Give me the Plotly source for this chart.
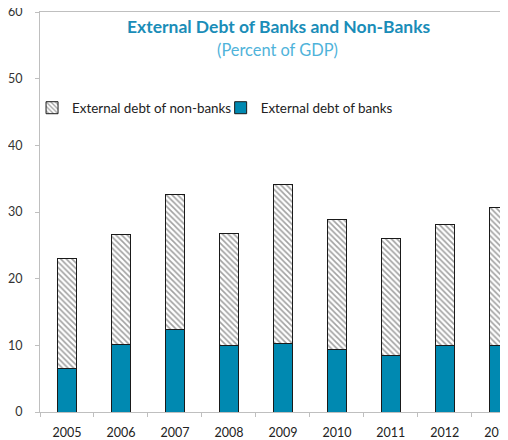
import plotly.graph_objects as go

years = ["2005", "2006", "2007", "2008", "2009", "2010", "2011", "2012", "2013"]
banks = [6.5, 10.2, 12.45, 10.0, 10.35, 9.35, 8.55, 10.0, 9.95]
non_banks = [16.5, 16.4, 20.15, 16.8, 23.8, 19.6, 17.45, 18.2, 20.75]
y_ticks = [0, 10, 20, 30, 40, 50, 60]

FONT = "Lato"
BLUE = "#0089B1"

fig = go.Figure()
fig.add_trace(go.Bar(
    x=years, y=banks, name="External debt of banks",
    marker=dict(color=BLUE, line=dict(color="#1a1a1a", width=1)),
    width=0.36, legend="legend2",
))
fig.add_trace(go.Bar(
    x=years, y=non_banks, name="External debt of non-banks",
    marker=dict(color="white", line=dict(color="#1a1a1a", width=1),
                pattern=dict(shape="\\", fgcolor="#444444", bgcolor="white",
                             size=4, solidity=0.4)),
    width=0.36, legend="legend",
))

legend_common = dict(orientation="h", yanchor="middle", y=0.76, xanchor="left",
                     font=dict(family=FONT, size=13.4, color="#222222"),
                     bgcolor="rgba(0,0,0,0)", itemwidth=30)

fig.update_layout(
    width=500, height=432,
    margin=dict(l=28, r=0, t=4, b=28),
    barmode="stack",
    plot_bgcolor="white", paper_bgcolor="white",
    font=dict(family=FONT, size=12, color="#222222"),
    showlegend=True,
    legend=dict(x=-0.017, **legend_common),
    legend2=dict(x=0.386, **legend_common),
    annotations=[
        dict(text="<b>External Debt of Banks and Non-Banks</b>", xref="paper", yref="paper",
             x=0.5106, y=0.9625, xanchor="center", yanchor="middle",
             showarrow=False, font=dict(family=FONT, size=17.5, color="#1A8DB8")),
        dict(text="(Percent of GDP)", xref="paper", yref="paper",
             x=0.508, y=0.905, xanchor="center", yanchor="middle",
             showarrow=False, font=dict(family=FONT, size=16.4, color="#4FB3DA")),
    ],
)

fig.update_xaxes(
    type="category", range=[-0.5, 8.17],
    showline=True, linecolor="#bfbfbf", linewidth=1, mirror=True,
    ticks="outside", tickson="boundaries", ticklen=4, tickcolor="#bfbfbf",
    showgrid=False, tickfont=dict(family=FONT, size=12.5, color="#222222"),
    ticklabelstandoff=9, automargin=False,
)
fig.update_yaxes(
    range=[0, 60], tickvals=y_ticks,
    showline=True, linecolor="#bfbfbf", linewidth=1,
    ticks="outside", ticklen=4, tickcolor="#bfbfbf",
    showgrid=False, zeroline=False,
    tickfont=dict(family=FONT, size=12.5, color="#333333"),
    ticklabelstandoff=10, ticklabeloverflow="allow", automargin="left",
)

fig.write_html("out.html")
